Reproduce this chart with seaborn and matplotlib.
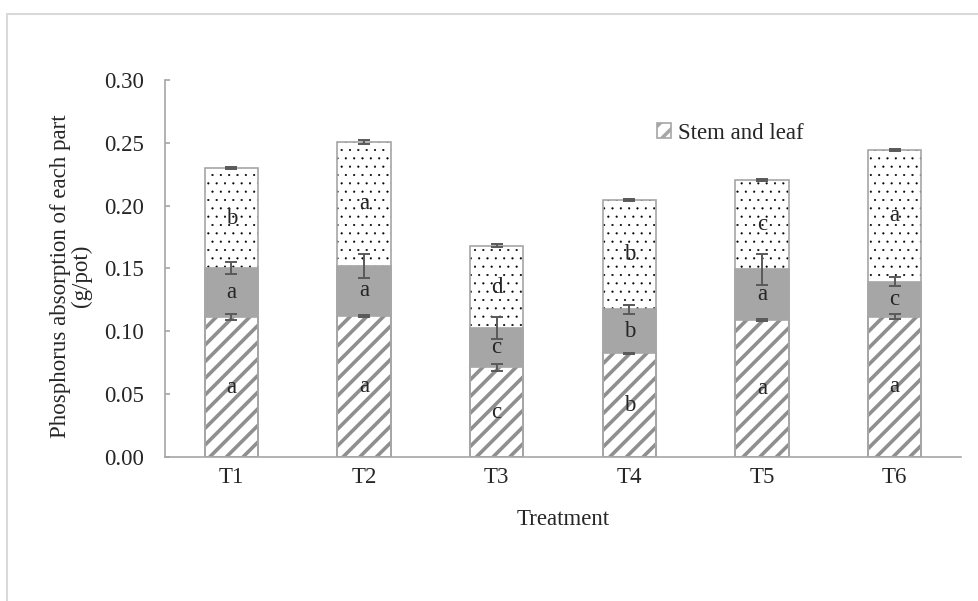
import numpy as np
import pandas as pd
import matplotlib.pyplot as plt
import seaborn as sns
from matplotlib.patches import Patch, Rectangle

# values (g/pot)
treatments = ['T1', 'T2', 'T3', 'T4', 'T5', 'T6']
stem_leaf = [0.1114, 0.1122, 0.0714, 0.0825, 0.1090, 0.1117]
part_mid = [0.0390, 0.0398, 0.0310, 0.0350, 0.0404, 0.0278]
part_top = [0.0794, 0.0990, 0.0657, 0.0870, 0.0710, 0.1048]

err_stem = [0.0022, 0.0008, 0.0026, 0.0006, 0.0005, 0.0020]
err_mid = [0.0045, 0.0095, 0.0089, 0.0036, 0.0123, 0.0036]
err_top = [0.0008, 0.0016, 0.0010, 0.0008, 0.0008, 0.0006]

letters_stem = ['a', 'a', 'c', 'b', 'a', 'a']
letters_mid = ['a', 'a', 'c', 'b', 'a', 'c']
letters_top = ['b', 'a', 'd', 'b', 'c', 'a']

df = pd.DataFrame({'treatment': treatments,
                   'stem': stem_leaf,
                   'mid': part_mid,
                   'top': part_top})
df['cum_mid'] = df['stem'] + df['mid']
df['cum_top'] = df['cum_mid'] + df['top']

sns.set_style("white")
plt.rcParams['font.family'] = ['Liberation Serif', 'DejaVu Serif']
plt.rcParams['font.size'] = 16.5

GRAY = '#a6a6a6'
STRIPE = '#8f8f8f'

fig, ax = plt.subplots(figsize=(9.79, 6.01), dpi=100)
fig.subplots_adjust(left=0.1685, right=0.9816, top=0.8669, bottom=0.2396)

# stacked bars: draw cumulative totals, tallest first
sns.barplot(data=df, x='treatment', y='cum_top', order=treatments, color='white',
            saturation=1, width=0.4, edgecolor='black', linewidth=0, hatch='..', ax=ax)
n_top = len(ax.patches)
sns.barplot(data=df, x='treatment', y='cum_mid', order=treatments, color=GRAY,
            saturation=1, width=0.4, edgecolor=GRAY, linewidth=0, ax=ax)
sns.barplot(data=df, x='treatment', y='stem', order=treatments, color='white',
            saturation=1, width=0.4, edgecolor=STRIPE, linewidth=0, hatch='//', ax=ax)

for i, p in enumerate(ax.patches):
    if hasattr(p, 'set_hatch_linewidth'):
        p.set_hatch_linewidth(0.3 if i < n_top else 2.6)
    outline = Rectangle(p.get_xy(), p.get_width(), p.get_height(), fill=False,
                        edgecolor=GRAY, linewidth=1.2, zorder=p.get_zorder() + 0.01)
    ax.add_patch(outline)

xs = np.arange(len(treatments))
for y, e in [(df['stem'], err_stem), (df['cum_mid'], err_mid), (df['cum_top'], err_top)]:
    ax.errorbar(xs, y, yerr=e, fmt='none', ecolor='#595959', elinewidth=1.4,
                capsize=4, capthick=1.4, zorder=5)

# significance letters at the centre of each segment
for i in range(len(treatments)):
    ax.text(i, df['stem'][i] / 2, letters_stem[i], ha='center', va='center', zorder=6)
    ax.text(i, df['stem'][i] + df['mid'][i] / 2, letters_mid[i], ha='center', va='center', zorder=6)
    ax.text(i, df['cum_mid'][i] + df['top'][i] / 2, letters_top[i], ha='center', va='center', zorder=6)

ax.set_xlim(-0.5, len(treatments) - 0.5)
ax.set_ylim(0, 0.30)
ax.set_yticks(np.arange(0, 0.301, 0.05))
ax.set_yticklabels([f'{v:.2f}' for v in np.arange(0, 0.301, 0.05)])
ax.set_xticks(np.arange(-0.5, len(treatments)), minor=True)

for s in ['top', 'right']:
    ax.spines[s].set_visible(False)
for s in ['left', 'bottom']:
    ax.spines[s].set_color(GRAY)
    ax.spines[s].set_linewidth(1.2)

ax.tick_params(axis='x', which='major', length=0, pad=7)
ax.tick_params(axis='x', which='minor', direction='in', length=3.6, color=GRAY, width=1.2)
ax.tick_params(axis='y', direction='in', length=3.6, color=GRAY, width=1.2, pad=15, left=True)

ax.set_xlabel('Treatment', labelpad=15)
ax.set_ylabel('Phosphorus absorption of each part\n(g/pot)', linespacing=1.0)
ax.yaxis.set_label_coords(-0.092, 0.48)

legend_handle = Patch(facecolor='white', edgecolor=GRAY, hatch='//', linewidth=1.2)
leg = ax.legend([legend_handle], ['Stem and leaf'], loc='center left',
                bbox_to_anchor=(0.618, 0.859), frameon=False, borderpad=0, borderaxespad=0,
                handlelength=0.6, handleheight=0.6, handletextpad=0.3)
for h in leg.legend_handles:
    if hasattr(h, 'set_hatch_linewidth'):
        h.set_hatch_linewidth(2.5)

# light outer frame of the chart area
fig.add_artist(Rectangle((7 / 979, -0.1), 1.2, 1.1 - 14 / 601, transform=fig.transFigure,
                         fill=False, edgecolor='#d9d9d9', linewidth=1.5))

plt.savefig('out.png', dpi=100)
plt.close()
